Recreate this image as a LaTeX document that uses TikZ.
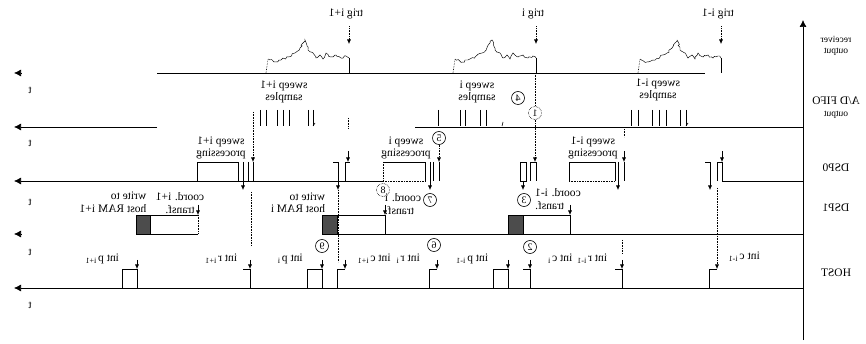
\documentclass[tikz,border=0pt]{standalone}
\usepackage{fontspec}
\setmainfont{Liberation Serif}
\usetikzlibrary{arrows.meta,decorations.pathmorphing}

\begin{document}
\begin{tikzpicture}[x=1pt,y=-1pt,line width=0.6pt,
        lbl/.style={xscale=-1,inner sep=0pt,align=center,font=\fontsize{11.5}{12.5}\selectfont},
        small/.style={lbl,font=\fontsize{9.5}{11}\selectfont},
        num/.style={circle,draw,xscale=-1,inner sep=0pt,minimum size=13pt,font=\fontsize{10}{10}\selectfont},
        numdot/.style={num,densely dotted},
        timeaxis/.style={-{Latex[length=7pt,width=7pt]},line width=0.7pt},
        arr/.style={-{Latex[length=4.5pt,width=4pt]}},
        guide/.style={densely dotted},
        hatchbox/.style={draw,fill=black!70}]
    \useasboundingbox (0,0) rectangle (866,344);

    % time axis on the right, row names
    \draw[timeaxis] (803,340) -- (803,20);
    \node[small] (nmRx) at (836,46) {receiver\\output};
    \node[lbl] (nmAD) at (836,101) {A/D FIFO};
    \node[small] (nmADo) at (836,115) {output};
    \node[lbl] (nmD0) at (836,168) {DSP0};
    \node[lbl] (nmD1) at (836,208) {DSP1};
    \node[lbl] (nmHost) at (836,273) {HOST};

    % row time lines
    \draw[timeaxis] (21,73) -- (14,73);
    \draw (157,73) -- (705,73);
    \draw[timeaxis] (157,127) -- (14,127);
    \draw (415,127) -- (803,127);
    \draw[timeaxis] (383,181) -- (14,181);
    \draw[timeaxis] (21,234) -- (14,234);
    \draw (322,234) -- (803,234);
    \draw[timeaxis] (803,288) -- (14,288);
    \foreach \y [count=\k] in {90,143,202,252,305}
        \node[lbl] (t\k) at (30,\y) {t};

    % receiver output
    \foreach \s/\name/\txt in {266/trA/{trig i+1},453/trB/{trig i},638/trC/{trig i-1}}{
        \draw[densely dotted] (\s,73) -- (\s+2,59);
        \draw[decorate,decoration={random steps,segment length=2pt,amplitude=1.1pt},line width=0.45pt]
            (\s+2,59) -- (\s+9,62) -- (\s+15,60) -- (\s+22,57) -- (\s+29,53) -- (\s+34,48) -- (\s+37,43)
            -- (\s+39,40) -- (\s+42,50) -- (\s+47,53) -- (\s+50,58) -- (\s+54,55) -- (\s+57,59) -- (\s+60,53)
            -- (\s+65,57) -- (\s+70,55) -- (\s+75,58) -- (\s+80,56) -- (\s+83,58);
        \draw (\s+83,58) -- (\s+83,73);
        \node[lbl] (\name) at (\s+80,14) {\txt};
        \coordinate (\name-p) at (\s+83,44);
        \draw[guide,arr,shorten <=7pt] (\name.south -| \name-p) -- (\name-p);
    }

    % A/D FIFO samples
    \foreach \x in {260,266,277,283,289,308,313,438,460,465,480,486,631,638,652,659,666,680,686}
        \draw (\x,110) -- (\x,126);
    \foreach \x in {313,686} \draw (\x,126) -- (\x+2,123);
    \draw (502,126) -- (503,122);
    \node[lbl] (smpA) at (284,92) {sweep i+1\\samples};
    \node[lbl] (smpB) at (477,92) {sweep i\\samples};
    \node[lbl] (smpC) at (658,90) {sweep i-1\\samples};
    \node[num] (c4) at (518,98) {4};
    \node[numdot] (c1) at (535,113) {1};
    \coordinate (trB-b) at (535,73);
    \coordinate (d0B) at (535,162);
    \draw[guide] (trB-b) -- (c1);
    \draw[guide,arr] (c1) -- (d0B);

    % DSP0
    \coordinate (adA) at (253,112);
    \coordinate (d0A) at (253,162);
    \draw[guide,arr] (adA) -- (d0A);
    \draw (197,181) -- (197,162) -- (238,162) -- (238,181);
    \draw (248,162) -- (248,181) (253,162) -- (253,181);
    \draw[arr] (243,162) -- (243,190);
    \node[lbl] (prA) at (221,148) {sweep i+1\\processing};
    \draw[arr] (333,162) -- (338,162) -- (338,190);
    \draw (345,181) -- (345,162) -- (350,162);
    \draw[guide] (348,118) -- (348,128);
    \draw[arr] (348,151) -- (348,162);

    \draw (383,162) -- (425,162) -- (425,181);
    \draw[guide] (383,162) -- (383,181) -- (425,181);
    \draw (433,162) -- (433,181) (439,162) -- (439,181);
    \draw[arr] (430,162) -- (430,190);
    \node[lbl] (prB) at (406,148) {sweep i\\processing};
    \node[num] (c5) at (439,138) {5};
    \coordinate (d0Bp) at (439,162);
    \draw[guide,arr] (c5) -- (d0Bp);
    \node[numdot] (c8) at (383,190) {8};
    \node[num] (c7) at (430,200) {7};

    \draw (520,162) rectangle (526,181);
    \draw[arr] (523,181) -- (523,190);
    \draw (530,181) -- (530,162) -- (536,162) -- (536,181);
    \node[num] (c3) at (524,200) {3};

    \draw (569,181) -- (569,162) -- (615,162) -- (615,181);
    \draw[guide] (569,181) -- (615,181);
    \draw (624,162) -- (624,181);
    \draw[arr] (618,162) -- (618,190);
    \node[lbl] (prC) at (593,148) {sweep i-1\\processing};
    \draw[guide] (624,129) -- (624,137);
    \draw[arr] (624,151) -- (624,162);

    \draw[arr] (705,162) -- (710,162) -- (710,190);
    \draw (717,181) -- (717,162) -- (722,162) -- (722,181) -- (803,181);
    \draw[arr] (722,151) -- (722,162);

    % DSP1
    \draw[hatchbox] (136,215) rectangle (150,234);
    \draw (150,215) -- (198,215) (150,234) -- (198,234);
    \draw[guide] (198,215) -- (198,234);
    \draw[arr] (198,205) -- (198,215);
    \node[lbl] (cdA) at (180,203) {coord. i+1\\transf.};
    \node[lbl,align=left] (wrA) at (113,202) {write to\\host RAM i+1};

    \draw[hatchbox] (322,215) rectangle (337,234);
    \draw (337,215) -- (385,215) -- (385,234);
    \draw[arr] (385,205) -- (385,215);
    \node[lbl,align=right] (cdB) at (403,204) {coord. i\\transf.};
    \node[lbl,align=left] (wrB) at (298,203) {write to\\host RAM i};

    \draw[hatchbox] (508,215) rectangle (523,234);
    \draw (523,215) -- (570,215) -- (570,234);
    \draw[arr] (570,205) -- (570,215);
    \node[lbl,align=right] (cdC) at (558,199) {coord. i-1\\transf.};

    % HOST
    \draw (122,269) rectangle (137,288);
    \draw[arr] (137,260) -- (137,269);
    \node[lbl] (hpA) at (102,259) {int p\,\textsubscript{i+1}};
    \coordinate (d0Ab) at (251,192);
    \coordinate (hrAt) at (251,246);
    \draw[guide] (d0Ab) -- (hrAt);
    \draw (243,269) -- (250,269) -- (250,288);
    \draw[arr] (250,260) -- (250,269);
    \node[lbl] (hrA) at (221,259) {int r\,\textsubscript{i+1}};

    \draw (307,269) rectangle (322,288);
    \draw[arr] (322,260) -- (322,269);
    \node[num] (c9) at (322,246) {9};
    \node[lbl] (hpB) at (290,259) {int p\,\textsubscript{i}};
    \coordinate (d0Pb) at (338,190);
    \coordinate (hcBt) at (338,262);
    \draw[guide] (d0Pb) -- (hcBt);
    \draw (337,288) -- (337,269) -- (345,269);
    \draw[arr] (345,260) -- (345,269);
    \node[lbl] (hcB) at (374,259) {int c\,\textsubscript{i+1}};

    \draw (429,288) -- (429,269) -- (437,269);
    \draw[arr] (437,260) -- (437,269);
    \node[num] (c6) at (434,245) {6};
    \node[lbl] (hrB) at (408,259) {int r\,\textsubscript{i}};
    \draw (493,269) rectangle (508,288);
    \draw[arr] (508,260) -- (508,269);
    \node[lbl] (hpC) at (472,259) {int p\,\textsubscript{i-1}};
    \draw (523,269) -- (530,269) -- (530,288);
    \draw[arr] (530,260) -- (530,269);
    \node[num] (c2) at (530,247) {2};
    \node[lbl] (hcA) at (560,259) {int c\,\textsubscript{i}};

    \draw (615,269) -- (622,269) -- (622,288);
    \draw[arr] (622,260) -- (622,269);
    \draw[guide] (622,240) -- (622,253);
    \node[lbl] (hrC) at (592,259) {int r\,\textsubscript{i-1}};
    \coordinate (d0Cb) at (717,188);
    \coordinate (hcCt) at (717,269);
    \draw (709,288) -- (709,269) -- (717,269);
    \draw[guide,arr] (d0Cb) -- (hcCt);
    \node[lbl] (hcC) at (744,257) {int c\,\textsubscript{i-1}};
\end{tikzpicture}
\end{document}
